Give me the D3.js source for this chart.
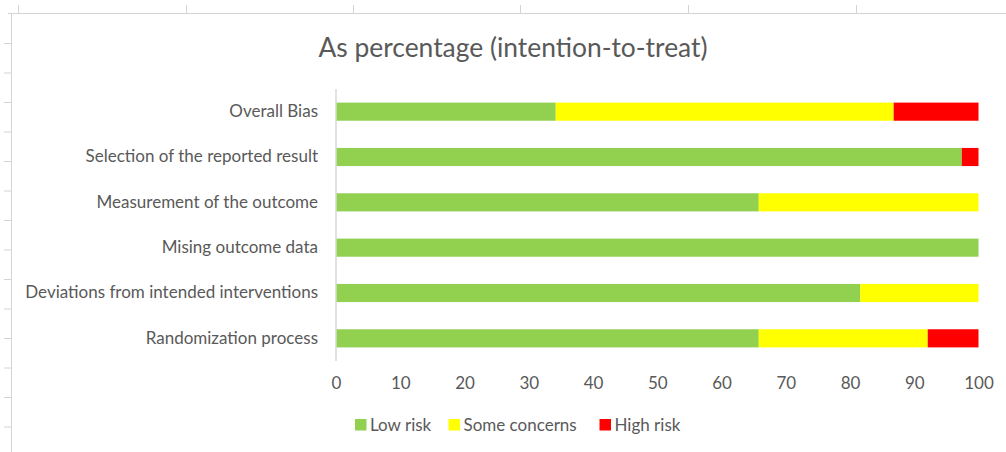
<!DOCTYPE html>
<html>
<head>
<meta charset="utf-8">
<script src="https://cdn.jsdelivr.net/npm/d3@7/dist/d3.min.js"></script>
<style>
  html, body { margin: 0; padding: 0; background: #fff; }
  svg { display: block; }
  text { font-family: Lato, "Open Sans", sans-serif; fill: #595959; }
</style>
</head>
<body>
<svg id="chart" width="1006" height="452"></svg>
<script>
// Risk-of-bias domains, bottom to top as drawn
const domains = [
  "Randomization process",
  "Deviations from intended interventions",
  "Mising outcome data",
  "Measurement of the outcome",
  "Selection of the reported result",
  "Overall Bias"
];
// Percentage of studies per judgement
const lowRisk       = [65.8, 81.6, 100, 65.8, 97.4, 34.2];
const someConcerns  = [26.3, 18.4, 0,   34.2, 0,    52.6];
const highRisk      = [7.9,  0,    0,   0,    2.6,  13.2];
const seriesNames   = ["Low risk", "Some concerns", "High risk"];
const seriesColors  = ["#92d050", "#ffff00", "#ff0000"];
const xTicks        = [0, 10, 20, 30, 40, 50, 60, 70, 80, 90, 100];
const titleText     = "As percentage (intention-to-treat)";

const svg = d3.select("#chart");
const W = 1006, H = 452;
const labelSize = 17;

// Worksheet cell grid peeking around the chart frame
const frame = svg.append("g").attr("stroke", "#d4d4d4").attr("fill", "none");
frame.append("line").attr("x1", 8).attr("x2", W).attr("y1", 13.5).attr("y2", 13.5);
frame.append("line").attr("x1", 11.5).attr("x2", 11.5).attr("y1", 13).attr("y2", H);
[18, 186, 353, 520, 688, 856].forEach(x =>
  frame.append("line").attr("x1", x + 0.5).attr("x2", x + 0.5).attr("y1", 5).attr("y2", 13));
[43, 72.5, 102, 131.5, 161, 190.5, 220, 249.5, 279, 308.5, 338, 367.5, 397, 426.5].forEach(y =>
  frame.append("line").attr("x1", 4).attr("x2", 11).attr("y1", y + 0.5).attr("y2", y + 0.5));

const plot = { left: 336, right: 978.5, top: 89, bottom: 361 };

const x = d3.scaleLinear().domain([0, 100]).range([plot.left, plot.right]);
const y = d3.scaleBand().domain(domains.slice().reverse())
  .range([plot.top, plot.bottom]).paddingInner(0.6).paddingOuter(0.3);

// Stack the three judgements for each domain
const rows = domains.map((d, i) => ({
  domain: d,
  "Low risk": lowRisk[i],
  "Some concerns": someConcerns[i],
  "High risk": highRisk[i]
}));
const stacked = d3.stack().keys(seriesNames)(rows);

svg.append("text")
  .attr("x", 513).attr("y", 57)
  .attr("text-anchor", "middle")
  .attr("font-size", 26.4)
  .text(titleText);

const layers = svg.append("g").selectAll("g")
  .data(stacked).join("g")
  .attr("fill", (d, i) => seriesColors[i]);

layers.selectAll("rect")
  .data(d => d.filter(s => s[1] - s[0] > 0))
  .join("rect")
  .attr("x", d => x(d[0]))
  .attr("width", d => x(d[1]) - x(d[0]))
  .attr("y", d => y(d.data.domain))
  .attr("height", y.bandwidth());

// Category axis (line only, labels right aligned)
const yAxis = svg.append("g")
  .attr("transform", `translate(${plot.left},0)`)
  .call(d3.axisLeft(y).tickSize(0).tickPadding(18));
yAxis.select(".domain").attr("stroke", "#d9d9d9").attr("stroke-width", 1.5)
  .attr("d", `M0,${plot.top}V${plot.bottom}`);
yAxis.selectAll("text").attr("font-size", labelSize).style("font-family", "Lato, sans-serif").attr("fill", "#595959");

// Value axis: labels only
const xAxis = svg.append("g")
  .attr("transform", `translate(0,${plot.bottom})`)
  .call(d3.axisBottom(x).tickValues(xTicks).tickSize(0).tickPadding(16).tickFormat(d3.format("d")));
xAxis.select(".domain").remove();
xAxis.selectAll("text").attr("font-size", labelSize).style("font-family", "Lato, sans-serif").attr("fill", "#595959");

// Legend
const legendItems = [
  { name: seriesNames[0], color: seriesColors[0], x: 355 },
  { name: seriesNames[1], color: seriesColors[1], x: 448.5 },
  { name: seriesNames[2], color: seriesColors[2], x: 599.5 }
];
const legend = svg.append("g").selectAll("g").data(legendItems).join("g")
  .attr("transform", d => `translate(${d.x},419)`);
legend.append("rect").attr("width", 11.5).attr("height", 11.5).attr("fill", d => d.color);
legend.append("text").attr("x", 15).attr("y", 12).attr("font-size", labelSize).text(d => d.name);
</script>
</body>
</html>
